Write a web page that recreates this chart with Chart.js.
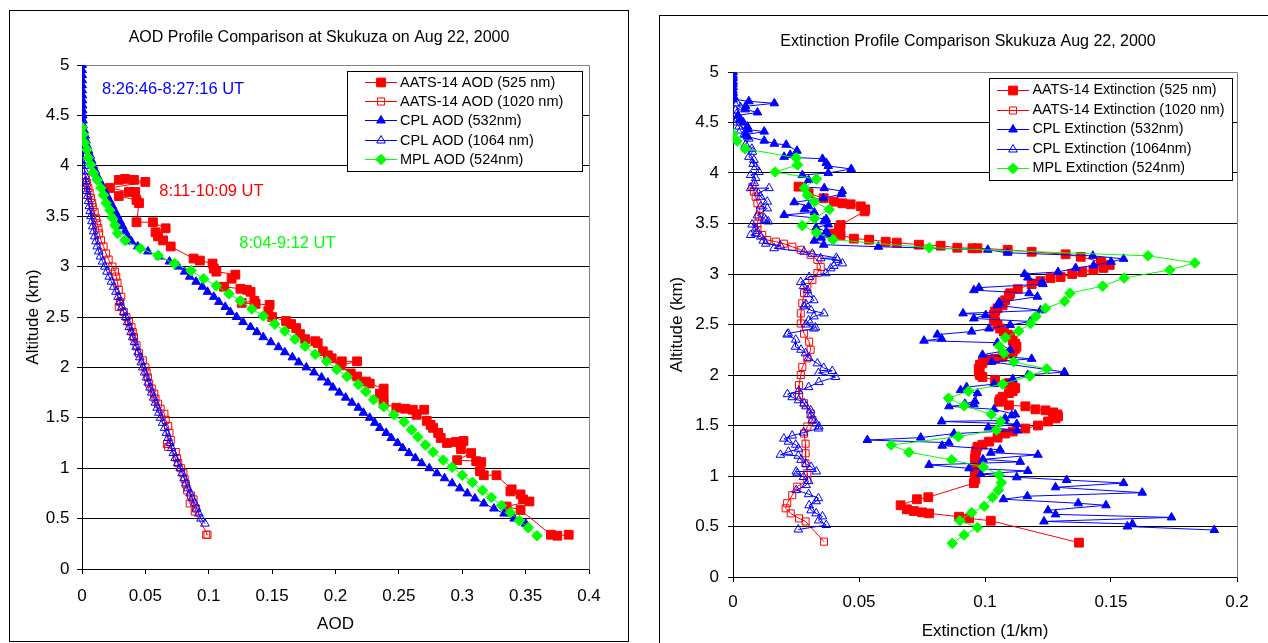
<!DOCTYPE html>
<html>
<head>
<meta charset="utf-8">
<title>Skukuza Aug 22, 2000 – AOD and extinction profiles</title>
<script src="https://cdn.jsdelivr.net/npm/chart.js@4.4.1/dist/chart.umd.min.js"></script>
<style>
  html, body { margin: 0; padding: 0; background: #fff; }
  body { position: relative; width: 1268px; height: 643px; overflow: hidden; }
  .panel { position: absolute; box-sizing: border-box; border: 1px solid #000; background: #fff; overflow: hidden; }
  #aodPanel { left: 9px; top: 10px; width: 620px; height: 632px; }
  #extPanel { left: 659px; top: 15px; width: 640px; height: 640px; }
  .panel canvas { position: absolute; left: 0; top: 0; }
</style>
</head>
<body>
<div class="panel" id="aodPanel"><canvas id="aodChart" width="618" height="630"></canvas></div>
<div class="panel" id="extPanel"><canvas id="extChart" width="608" height="627"></canvas></div>
<script>
// ---------- tick labels ----------
const altTickLabels = ['0', '0.5', '1', '1.5', '2', '2.5', '3', '3.5', '4', '4.5', '5'];
const aodTickLabels = ['0', '0.05', '0.1', '0.15', '0.2', '0.25', '0.3', '0.35', '0.4'];
const extTickLabels = ['0', '0.05', '0.1', '0.15', '0.2'];

// ---------- AOD profiles: [altitude km, AOD] ----------
const aatsAod525 = [
  [3.87,0.034],[3.86,0.029],[3.86,0.041],[3.84,0.050],[3.78,0.022],[3.74,0.037],[3.74,0.042],[3.70,0.029],
  [3.66,0.043],[3.63,0.045],[3.44,0.043],[3.44,0.056],[3.38,0.066],[3.34,0.058],[3.30,0.060],[3.26,0.064],
  [3.20,0.070],[3.08,0.088],[3.06,0.093],[3.03,0.103],[2.98,0.104],[2.95,0.106],[2.92,0.121],[2.88,0.118],
  [2.80,0.112],[2.78,0.125],[2.77,0.130],[2.75,0.133],[2.66,0.136],[2.64,0.126],[2.63,0.137],[2.62,0.148],
  [2.56,0.147],[2.50,0.150],[2.46,0.161],[2.43,0.165],[2.39,0.169],[2.33,0.172],[2.28,0.176],[2.26,0.184],
  [2.24,0.186],[2.16,0.190],[2.12,0.194],[2.09,0.197],[2.06,0.205],[2.06,0.217],[2.02,0.204],[1.94,0.212],
  [1.91,0.217],[1.86,0.224],[1.84,0.227],[1.79,0.238],[1.74,0.235],[1.70,0.238],[1.64,0.238],[1.60,0.248],
  [1.59,0.255],[1.58,0.261],[1.58,0.270],[1.53,0.264],[1.47,0.272],[1.43,0.275],[1.40,0.277],[1.35,0.281],
  [1.30,0.283],[1.25,0.288],[1.26,0.295],[1.27,0.301],[1.19,0.299],[1.15,0.307],[1.08,0.296],[1.07,0.311],
  [1.06,0.315],[0.97,0.314],[0.93,0.317],[0.93,0.327],[0.79,0.339],[0.77,0.338],[0.74,0.346],[0.69,0.348],
  [0.67,0.353],[0.62,0.335],[0.585,0.346],[0.34,0.370],[0.33,0.375],[0.34,0.384]
];
const aatsAod1020 = [
  [3.88,0.003],[3.83,0.004],[3.78,0.005],[3.73,0.006],[3.68,0.007],[3.63,0.008],[3.59,0.0085],[3.54,0.010],
  [3.48,0.011],[3.43,0.012],[3.38,0.013],[3.33,0.0135],[3.26,0.015],[3.20,0.017],[3.13,0.019],[3.07,0.021],
  [3.00,0.024],[2.95,0.026],[2.90,0.027],[2.84,0.028],[2.77,0.029],[2.70,0.031],[2.65,0.030],[2.60,0.029],
  [2.55,0.033],[2.50,0.035],[2.45,0.037],[2.40,0.039],[2.35,0.040],[2.30,0.041],[2.22,0.043],[2.14,0.045],
  [2.07,0.048],[2.00,0.050],[1.95,0.051],[1.90,0.052],[1.84,0.053],[1.79,0.055],[1.74,0.057],[1.69,0.058],
  [1.64,0.060],[1.59,0.062],[1.54,0.065],[1.48,0.066],[1.42,0.068],[1.35,0.069],[1.28,0.070],[1.24,0.067],
  [1.21,0.068],[1.16,0.074],[1.10,0.075],[1.05,0.076],[1.00,0.078],[0.95,0.080],[0.89,0.081],[0.84,0.082],
  [0.78,0.083],[0.73,0.086],[0.69,0.088],[0.65,0.085],[0.60,0.090],[0.57,0.089],[0.34,0.099],[0.34,0.098]
];
const cplAod532 = [
  [5.00,0],[4.95,0],[4.90,0],[4.85,0],[4.80,0],[4.75,0],[4.70,0.0002],[4.65,0.0003],[4.60,0.0004],[4.55,0.0005],
  [4.50,0.0006],[4.45,0.0008],[4.40,0.001],[4.35,0.0017],[4.30,0.0025],[4.25,0.0032],[4.20,0.004],[4.15,0.0052],
  [4.10,0.0065],[4.05,0.0077],[4.00,0.009],[3.95,0.0105],[3.90,0.012],[3.85,0.014],[3.80,0.016],[3.75,0.018],
  [3.70,0.020],[3.65,0.022],[3.60,0.024],[3.55,0.026],[3.50,0.028],[3.45,0.030],[3.40,0.032],[3.35,0.034],
  [3.30,0.036],[3.25,0.039],[3.20,0.044],[3.15,0.052],[3.10,0.061],[3.05,0.069],[3.00,0.076],[2.95,0.081],
  [2.90,0.085],[2.85,0.090],[2.80,0.095],[2.75,0.099],[2.70,0.104],[2.65,0.108],[2.60,0.113],[2.55,0.117],
  [2.50,0.122],[2.45,0.127],[2.40,0.133],[2.35,0.138],[2.30,0.143],[2.25,0.149],[2.20,0.155],[2.15,0.160],
  [2.10,0.166],[2.05,0.171],[2.00,0.177],[1.95,0.183],[1.90,0.189],[1.85,0.194],[1.80,0.198],[1.75,0.203],
  [1.70,0.208],[1.65,0.213],[1.60,0.218],[1.55,0.222],[1.50,0.227],[1.45,0.231],[1.40,0.235],[1.35,0.240],
  [1.30,0.244],[1.25,0.249],[1.20,0.253],[1.15,0.258],[1.10,0.263],[1.05,0.268],[1.00,0.274],[0.95,0.280],
  [0.90,0.286],[0.85,0.292],[0.80,0.298],[0.75,0.304],[0.70,0.310],[0.65,0.317],[0.60,0.325],[0.55,0.333],
  [0.50,0.341],[0.45,0.350]
];
const cplAod1064 = [
  [5.00,0],[4.95,0],[4.90,0],[4.85,0],[4.80,0],[4.75,0],[4.70,0.0001],[4.65,0.0001],[4.60,0.0002],[4.55,0.0002],
  [4.50,0.0003],[4.45,0.0004],[4.40,0.0005],[4.35,0.0006],[4.30,0.0008],[4.25,0.0009],[4.20,0.001],[4.15,0.0012],
  [4.10,0.0014],[4.05,0.0016],[4.00,0.0018],[3.95,0.0021],[3.90,0.0025],[3.85,0.0029],[3.80,0.0033],[3.75,0.0039],
  [3.70,0.0045],[3.65,0.0051],[3.60,0.0058],[3.55,0.0064],[3.50,0.0071],[3.45,0.0078],[3.40,0.0085],[3.35,0.0092],
  [3.30,0.0100],[3.25,0.0110],[3.20,0.0120],[3.15,0.0132],[3.10,0.0145],[3.05,0.0162],[3.00,0.0180],[2.95,0.0197],
  [2.90,0.0215],[2.85,0.0232],[2.80,0.0250],[2.75,0.0268],[2.70,0.0285],[2.65,0.0300],[2.60,0.0315],[2.55,0.0330],
  [2.50,0.0345],[2.45,0.0359],[2.40,0.0373],[2.35,0.0387],[2.30,0.0400],[2.25,0.0414],[2.20,0.0428],[2.15,0.0442],
  [2.10,0.0456],[2.05,0.0468],[2.00,0.0480],[1.95,0.0494],[1.90,0.0508],[1.85,0.0522],[1.80,0.0536],[1.75,0.0550],
  [1.70,0.0565],[1.65,0.0579],[1.60,0.0593],[1.55,0.0606],[1.50,0.0620],[1.45,0.0636],[1.40,0.0652],[1.35,0.0666],
  [1.30,0.0680],[1.25,0.0694],[1.20,0.0707],[1.15,0.0721],[1.10,0.0735],[1.05,0.0755],[1.00,0.0775],[0.95,0.0790],
  [0.90,0.0805],[0.85,0.0820],[0.80,0.0835],[0.75,0.0852],[0.70,0.0870],[0.65,0.0888],[0.60,0.0905],[0.55,0.0922],
  [0.50,0.0940],[0.45,0.0970]
];
const mplAod = [
  [4.38,0.000],[4.31,0.001],[4.23,0.002],[4.16,0.004],[4.08,0.005],[4.01,0.007],[3.93,0.009],[3.86,0.012],
  [3.78,0.015],[3.71,0.017],[3.63,0.019],[3.56,0.022],[3.48,0.024],[3.41,0.026],[3.33,0.028],[3.26,0.034],
  [3.18,0.046],[3.11,0.060],[3.03,0.073],[2.96,0.086],[2.88,0.096],[2.81,0.106],[2.73,0.116],[2.66,0.125],
  [2.58,0.134],[2.51,0.143],[2.43,0.152],[2.36,0.160],[2.28,0.168],[2.21,0.176],[2.13,0.184],[2.06,0.193],
  [1.98,0.201],[1.91,0.209],[1.83,0.218],[1.76,0.224],[1.68,0.230],[1.61,0.238],[1.53,0.246],[1.46,0.254],
  [1.38,0.260],[1.31,0.265],[1.23,0.271],[1.16,0.277],[1.08,0.285],[1.01,0.292],[0.93,0.300],[0.86,0.308],
  [0.78,0.316],[0.71,0.323],[0.63,0.331],[0.56,0.338],[0.48,0.345],[0.41,0.352],[0.33,0.359]
];

// ---------- extinction profiles: [altitude km, extinction 1/km] ----------
const aatsExt525 = [
  [3.865,0.026],[3.80,0.030],[3.75,0.036],[3.716,0.040],[3.70,0.0434],[3.69,0.0467],[3.67,0.0507],[3.64,0.0525],
  [3.62,0.0522],[3.485,0.0427],[3.45,0.042],[3.40,0.0388],[3.386,0.0427],[3.35,0.048],[3.34,0.054],[3.32,0.0606],
  [3.31,0.065],[3.29,0.0738],[3.28,0.0824],[3.26,0.089],[3.255,0.095],[3.255,0.097],[3.24,0.109],[3.22,0.1185],
  [3.195,0.132],[3.17,0.138],[3.12,0.146],[3.09,0.1495],[3.06,0.147],[3.04,0.143],[3.02,0.1386],[3.00,0.1346],
  [2.97,0.130],[2.96,0.126],[2.93,0.122],[2.90,0.1185],[2.85,0.113],[2.81,0.110],[2.79,0.1095],[2.74,0.108],
  [2.69,0.107],[2.66,0.105],[2.63,0.104],[2.60,0.1036],[2.56,0.1036],[2.53,0.104],[2.495,0.105],[2.46,0.106],
  [2.43,0.1075],[2.40,0.109],[2.38,0.110],[2.34,0.111],[2.31,0.112],[2.28,0.1125],[2.26,0.112],[2.23,0.111],
  [2.21,0.110],[2.18,0.107],[2.16,0.104],[2.15,0.1016],[2.12,0.099],[2.10,0.098],[2.06,0.0975],[2.03,0.0976],
  [2.00,0.098],[1.98,0.099],[1.95,0.104],[1.92,0.1095],[1.89,0.111],[1.87,0.112],[1.84,0.111],[1.82,0.1095],
  [1.785,0.107],[1.76,0.106],[1.735,0.1056],[1.70,0.1095],[1.69,0.116],[1.66,0.120],[1.65,0.124],[1.63,0.127],
  [1.61,0.1287],[1.59,0.129],[1.57,0.128],[1.54,0.125],[1.50,0.121],[1.47,0.116],[1.44,0.111],[1.42,0.108],
  [1.38,0.105],[1.34,0.1016],[1.31,0.099],[1.29,0.097],[1.25,0.0965],[1.21,0.0962],[1.17,0.096],[1.13,0.0962],
  [1.09,0.0965],[1.05,0.0962],[1.01,0.096],[0.97,0.0962],[0.93,0.0956],[0.79,0.0775],[0.77,0.073],[0.71,0.0665],
  [0.67,0.069],[0.653,0.0718],[0.64,0.075],[0.63,0.0778],[0.597,0.0897],[0.58,0.0937],[0.557,0.1023],[0.34,0.1373]
];
const aatsExt1020 = [
  [3.865,0.0077],[3.815,0.0083],[3.765,0.009],[3.70,0.0097],[3.63,0.0107],[3.57,0.0103],[3.50,0.0097],[3.435,0.0097],
  [3.386,0.0116],[3.336,0.0136],[3.32,0.017],[3.30,0.0202],[3.27,0.0235],[3.24,0.0269],[3.19,0.0308],[3.14,0.0335],
  [3.07,0.0348],[3.01,0.0335],[2.94,0.0315],[2.87,0.0295],[2.81,0.0282],[2.71,0.0275],[2.61,0.0269],[2.51,0.0269],
  [2.41,0.0282],[2.33,0.0302],[2.25,0.0308],[2.165,0.0295],[2.08,0.0275],[2.00,0.0269],[1.90,0.0262],[1.80,0.0262],
  [1.72,0.0282],[1.62,0.0308],[1.555,0.0315],[1.49,0.0295],[1.42,0.0282],[1.32,0.0288],[1.225,0.0288],[1.125,0.0288],
  [1.027,0.0295],[0.96,0.0295],[0.894,0.0255],[0.81,0.0235],[0.73,0.0215],[0.68,0.0209],[0.63,0.0229],[0.58,0.0262],
  [0.55,0.0288],[0.35,0.0361]
];
const cplExt532 = [
  [5.00,0],[4.97,0],[4.94,0],[4.91,0],[4.88,0],[4.85,0],[4.82,0],[4.79,0],[4.76,0],[4.73,0],
  [4.71,0.0063],[4.69,0.0164],[4.66,0.0050],[4.63,0.0048],[4.60,0.0097],[4.57,0.0020],[4.53,0.0030],[4.50,0.0041],
  [4.46,0.0057],[4.43,0.0060],[4.41,0.0124],[4.38,0.0050],[4.36,0.0057],[4.32,0.0124],[4.29,0.0164],[4.28,0.0211],
  [4.22,0.0254],[4.18,0.0227],[4.16,0.0203],[4.14,0.0355],[4.10,0.0370],[4.07,0.0378],[4.04,0.0469],[4.00,0.0378],
  [3.98,0.0275],[3.93,0.0300],[3.86,0.0283],[3.85,0.0362],[3.82,0.0434],[3.79,0.0430],[3.75,0.0359],[3.71,0.0243],
  [3.67,0.0300],[3.64,0.0283],[3.61,0.0323],[3.585,0.0203],[3.545,0.0370],[3.52,0.0360],[3.49,0.0378],[3.46,0.0330],
  [3.42,0.0370],[3.39,0.0378],[3.36,0.0350],[3.33,0.0323],[3.29,0.0360],[3.27,0.0577],[3.24,0.1011],[3.21,0.1090],
  [3.18,0.1428],[3.15,0.1550],[3.12,0.1500],[3.085,0.1431],[3.06,0.1360],[3.02,0.1290],[3.00,0.1157],[2.965,0.1170],
  [2.92,0.1227],[2.90,0.1230],[2.865,0.0976],[2.84,0.0956],[2.81,0.1175],[2.775,0.1208],[2.72,0.1056],[2.69,0.1049],
  [2.64,0.1220],[2.61,0.0913],[2.594,0.1003],[2.56,0.0956],[2.53,0.1180],[2.495,0.1100],[2.46,0.1016],[2.43,0.0947],
  [2.40,0.0811],[2.36,0.0828],[2.34,0.0758],[2.32,0.1049],[2.25,0.1100],[2.20,0.0990],[2.16,0.1185],[2.13,0.1027],
  [2.03,0.1315],[2.00,0.1170],[1.96,0.1110],[1.91,0.1036],[1.88,0.0927],[1.85,0.0903],[1.82,0.0970],[1.74,0.0960],
  [1.715,0.0920],[1.71,0.0956],[1.69,0.0857],[1.66,0.1036],[1.61,0.1120],[1.60,0.1106],[1.57,0.1080],[1.55,0.1075],
  [1.54,0.0828],[1.515,0.1126],[1.48,0.1013],[1.45,0.1128],[1.42,0.0877],[1.38,0.0745],[1.356,0.0533],[1.33,0.0857],
  [1.30,0.0830],[1.26,0.1060],[1.23,0.1023],[1.21,0.1210],[1.165,0.0992],[1.14,0.1140],[1.11,0.0778],[1.076,0.0937],
  [1.05,0.1170],[1.02,0.0983],[0.987,0.1126],[0.96,0.1324],[0.93,0.1550],[0.888,0.1280],[0.835,0.1624],[0.80,0.1168],
  [0.77,0.1073],[0.73,0.1370],[0.71,0.1480],[0.66,0.1250],[0.62,0.1280],[0.59,0.1740],[0.55,0.1234],[0.525,0.1585],
  [0.50,0.1565],[0.465,0.1910]
];
const cplExt1064 = [
  [5.00,0],[4.95,0],[4.90,0],[4.85,0],[4.80,0],[4.75,0.0005],[4.69,0.0017],[4.65,0.003],[4.62,0.001],[4.57,0],
  [4.54,0.0017],[4.50,0.001],[4.46,0.0024],[4.42,0.003],[4.38,0.0044],[4.34,0.0063],[4.28,0.005],[4.24,0.0075],
  [4.21,0.0077],[4.16,0.0063],[4.13,0.0083],[4.09,0.008],[4.06,0.009],[4.01,0.0103],[3.98,0.007],[3.95,0.009],
  [3.90,0.0085],[3.85,0.007],[3.85,0.0143],[3.80,0.010],[3.765,0.011],[3.716,0.0136],[3.67,0.011],[3.65,0.0136],
  [3.58,0.0097],[3.55,0.0125],[3.535,0.013],[3.52,0.014],[3.49,0.0076],[3.45,0.009],[3.40,0.0092],[3.386,0.007],
  [3.37,0.011],[3.33,0.012],[3.30,0.013],[3.28,0.0188],[3.255,0.0163],[3.22,0.0282],[3.20,0.0315],[3.16,0.041],
  [3.155,0.0348],[3.14,0.0414],[3.105,0.0434],[3.08,0.040],[3.056,0.0388],[3.007,0.0368],[2.97,0.0302],[2.92,0.0269],
  [2.88,0.028],[2.84,0.0295],[2.80,0.030],[2.74,0.0321],[2.70,0.029],[2.68,0.0282],[2.64,0.031],[2.61,0.0361],
  [2.58,0.0321],[2.54,0.030],[2.50,0.029],[2.47,0.0327],[2.46,0.0321],[2.41,0.0219],[2.40,0.0215],[2.35,0.0249],
  [2.28,0.0248],[2.25,0.027],[2.215,0.0288],[2.17,0.030],[2.115,0.0335],[2.07,0.036],[2.04,0.0394],[2.02,0.0339],
  [1.98,0.0407],[1.93,0.0341],[1.88,0.030],[1.84,0.026],[1.81,0.0216],[1.78,0.0235],[1.75,0.026],[1.72,0.0282],
  [1.69,0.029],[1.65,0.0308],[1.60,0.031],[1.555,0.0315],[1.52,0.033],[1.49,0.0341],[1.47,0.0339],[1.43,0.028],
  [1.40,0.0235],[1.37,0.0202],[1.34,0.022],[1.31,0.0249],[1.27,0.026],[1.24,0.022],[1.21,0.0188],[1.20,0.0259],
  [1.16,0.027],[1.12,0.029],[1.09,0.031],[1.045,0.0331],[1.045,0.0251],[1.027,0.0255],[0.99,0.028],[0.95,0.030],
  [0.91,0.029],[0.86,0.0251],[0.82,0.030],[0.78,0.0339],[0.75,0.033],[0.71,0.0302],[0.66,0.031],[0.63,0.033],
  [0.60,0.0355],[0.56,0.034],[0.515,0.037],[0.47,0.0259]
];
const mplExt = [
  [4.386,0],[4.317,0.0016],[4.24,0.0048],[4.15,0.0251],[4.08,0.0256],[4.01,0.0167],[3.94,0.0331],[3.85,0.0283],
  [3.78,0.0296],[3.715,0.0323],[3.64,0.0382],[3.55,0.0323],[3.48,0.0275],[3.41,0.0331],[3.34,0.0397],[3.26,0.0779],
  [3.18,0.1647],[3.11,0.1833],[3.04,0.1733],[2.96,0.1552],[2.88,0.1467],[2.81,0.1337],[2.73,0.1316],[2.66,0.1240],
  [2.58,0.1202],[2.51,0.1181],[2.435,0.1134],[2.37,0.1081],[2.285,0.1057],[2.215,0.1075],[2.13,0.1114],[2.06,0.1245],
  [1.99,0.1178],[1.91,0.1070],[1.84,0.0935],[1.77,0.0855],[1.695,0.0917],[1.61,0.1025],[1.54,0.1062],[1.455,0.1045],
  [1.39,0.0894],[1.307,0.0628],[1.235,0.0698],[1.16,0.0868],[1.09,0.0993],[1.01,0.1056],[0.934,0.1065],[0.86,0.1053],
  [0.79,0.1030],[0.70,0.0997],[0.637,0.0947],[0.557,0.0900],[0.49,0.0970],[0.416,0.0917],[0.333,0.0870]
];

// ---------- drawing ----------
const FONT = '"Liberation Sans", Arial, Helvetica, sans-serif';
const RED = '#ff0000', BLUE = '#0000ff', GREEN = '#00ff00', NONE = 'rgba(255,255,255,0)';

Chart.defaults.font.family = FONT;
Chart.defaults.color = '#000';
Chart.defaults.animation = false;

const toXY = rows => rows.map(r => ({ x: r[1], y: r[0] }));

function series(label, rows, color, style, radius, filled, order) {
  return {
    label, data: toXY(rows), showLine: true, order,
    borderColor: color, borderWidth: 1, backgroundColor: filled ? color : NONE,
    pointStyle: style, pointRadius: radius, pointHoverRadius: radius,
    pointBorderColor: color, pointBackgroundColor: filled ? color : NONE, pointBorderWidth: 1
  };
}

function drawMarker(ctx, ds, x, y) {
  if (Chart.helpers && Chart.helpers.drawPoint) {
    Chart.helpers.drawPoint(ctx, { pointStyle: ds.pointStyle, radius: ds.pointRadius, borderWidth: ds.pointBorderWidth, rotation: 0 }, x, y);
  }
}

// frame around the plot area, chart title, time notes and the boxed legend
const profileDecor = {
  id: 'profileDecor',
  beforeDatasetsDraw(chart) {
    const { ctx, chartArea: a } = chart;
    const l = Math.round(a.left) + 0.5, t = Math.round(a.top) + 0.5;
    const r = Math.round(a.right) + 0.5, b = Math.round(a.bottom) + 0.5;
    ctx.save();
    ctx.strokeStyle = '#808080';
    ctx.lineWidth = 1;
    ctx.beginPath();
    ctx.moveTo(l, t); ctx.lineTo(r, t); ctx.lineTo(r, b);
    ctx.stroke();
    ctx.restore();
  },
  afterDraw(chart, args, o) {
    const ctx = chart.ctx;
    const xs = chart.scales.x, ys = chart.scales.y;
    ctx.save();
    ctx.textBaseline = 'middle';
    ctx.fillStyle = '#000';
    ctx.textAlign = 'center';
    ctx.font = o.titleSize + 'px ' + FONT;
    ctx.fillText(o.title, o.titleX, o.titleY);

    ctx.textAlign = 'left';
    ctx.font = o.noteSize + 'px ' + FONT;
    (o.notes || []).forEach(n => {
      ctx.fillStyle = n.color;
      ctx.fillText(n.text, xs.getPixelForValue(n.x), ys.getPixelForValue(n.y));
    });

    const L = o.legend;
    ctx.fillStyle = '#fff';
    ctx.fillRect(L.x, L.y, L.w, L.h);
    ctx.strokeStyle = '#000';
    ctx.lineWidth = 1;
    ctx.strokeRect(L.x + 0.5, L.y + 0.5, L.w, L.h);
    ctx.font = L.fontSize + 'px ' + FONT;
    chart.data.datasets.forEach((ds, i) => {
      const y = Math.round(L.row0 + i * L.step) + 0.5;
      ctx.strokeStyle = ds.borderColor;
      ctx.lineWidth = ds.borderWidth;
      ctx.beginPath();
      ctx.moveTo(L.lineX1, y); ctx.lineTo(L.lineX2, y);
      ctx.stroke();
      ctx.fillStyle = ds.pointBackgroundColor;
      ctx.strokeStyle = ds.pointBorderColor;
      ctx.lineWidth = ds.pointBorderWidth;
      drawMarker(ctx, ds, (L.lineX1 + L.lineX2) / 2, y);
      ctx.fillStyle = '#000';
      ctx.textAlign = 'left';
      ctx.fillText(ds.label, L.textX, y);
    });
    ctx.restore();
  }
};

function linearAxis(labels, min, max, fixSize, isX, tickPad, title, titlePad) {
  return {
    type: 'linear', min, max,
    afterBuildTicks: s => { s.ticks = labels.map(t => ({ value: parseFloat(t) })); },
    afterFit: s => { if (isX) s.height = fixSize; else s.width = fixSize; },
    ticks: {
      callback: (v, i) => labels[i], font: { size: 17 }, color: '#000',
      padding: tickPad, maxRotation: 0, autoSkip: false
    },
    grid: isX
      ? { drawOnChartArea: false, drawTicks: true, tickLength: 5, tickColor: '#000' }
      : { drawOnChartArea: true, color: '#000', lineWidth: 1, drawTicks: true, tickLength: 5, tickColor: '#000' },
    border: { display: true, color: '#000', width: 1 },
    title: { display: true, text: title, font: { size: 17 }, color: '#000', padding: titlePad }
  };
}

new Chart(document.getElementById('aodChart'), {
  type: 'scatter',
  data: {
    datasets: [
      series('AATS-14 AOD (525 nm)', aatsAod525, RED, 'rect', 6.2, true, 5),
      series('AATS-14 AOD (1020 nm)', aatsAod1020, RED, 'rect', 5, false, 4),
      series('CPL AOD (532nm)', cplAod532, BLUE, 'triangle', 5, true, 3),
      series('CPL AOD (1064 nm)', cplAod1064, BLUE, 'triangle', 5, false, 2),
      series('MPL AOD (524nm)', mplAod, GREEN, 'rectRot', 5.3, true, 1)
    ]
  },
  options: {
    responsive: false, devicePixelRatio: 1, events: [],
    layout: { padding: { left: 0, top: 54, right: 39, bottom: 0 } },
    scales: {
      x: linearAxis(aodTickLabels, 0, 0.4, 72, true, 12, 'AOD', { top: 0, bottom: 6 }),
      y: linearAxis(altTickLabels, 0, 5, 72, false, 7.5, 'Altitude (km)', { top: 13, bottom: 0 })
    },
    plugins: {
      legend: { display: false }, tooltip: { enabled: false },
      profileDecor: {
        title: 'AOD Profile Comparison at Skukuza on Aug 22, 2000', titleSize: 16, titleX: 309, titleY: 27,
        noteSize: 16.5,
        notes: [
          { text: '8:26:46-8:27:16 UT', color: BLUE, x: 0.0158, y: 4.76 },
          { text: '8:11-10:09 UT', color: RED, x: 0.061, y: 3.743 },
          { text: '8:04-9:12 UT', color: GREEN, x: 0.1241, y: 3.23 }
        ],
        legend: { x: 337, y: 60, w: 235, h: 100, row0: 70.5, step: 19.4, lineX1: 355, lineX2: 387, textX: 390, fontSize: 14.5 }
      }
    }
  },
  plugins: [profileDecor]
});

new Chart(document.getElementById('extChart'), {
  type: 'scatter',
  data: {
    datasets: [
      series('AATS-14 Extinction (525 nm)', aatsExt525, RED, 'rect', 6.2, true, 5),
      series('AATS-14 Extinction (1020 nm)', aatsExt1020, RED, 'rect', 5, false, 4),
      series('CPL Extinction (532nm)', cplExt532, BLUE, 'triangle', 5, true, 3),
      series('CPL Extinction (1064nm)', cplExt1064, BLUE, 'triangle', 5, false, 2),
      series('MPL Extinction (524nm)', mplExt, GREEN, 'rectRot', 5.3, true, 1)
    ]
  },
  options: {
    responsive: false, devicePixelRatio: 1, events: [],
    layout: { padding: { left: 0, top: 56, right: 31, bottom: 0 } },
    scales: {
      x: linearAxis(extTickLabels, 0, 0.2, 66, true, 10.5, 'Extinction (1/km)', { top: 0, bottom: 1.5 }),
      y: linearAxis(altTickLabels, 0, 5, 73, false, 9, 'Altitude (km)', { top: 7, bottom: 0 })
    },
    plugins: {
      legend: { display: false }, tooltip: { enabled: false },
      profileDecor: {
        title: 'Extinction Profile Comparison Skukuza Aug 22, 2000', titleSize: 16, titleX: 308, titleY: 26,
        noteSize: 16.5, notes: [],
        legend: { x: 329, y: 62, w: 243, h: 102, row0: 74, step: 19.6, lineX1: 337, lineX2: 369, textX: 372.5, fontSize: 14.3 }
      }
    }
  },
  plugins: [profileDecor]
});
</script>
</body>
</html>
